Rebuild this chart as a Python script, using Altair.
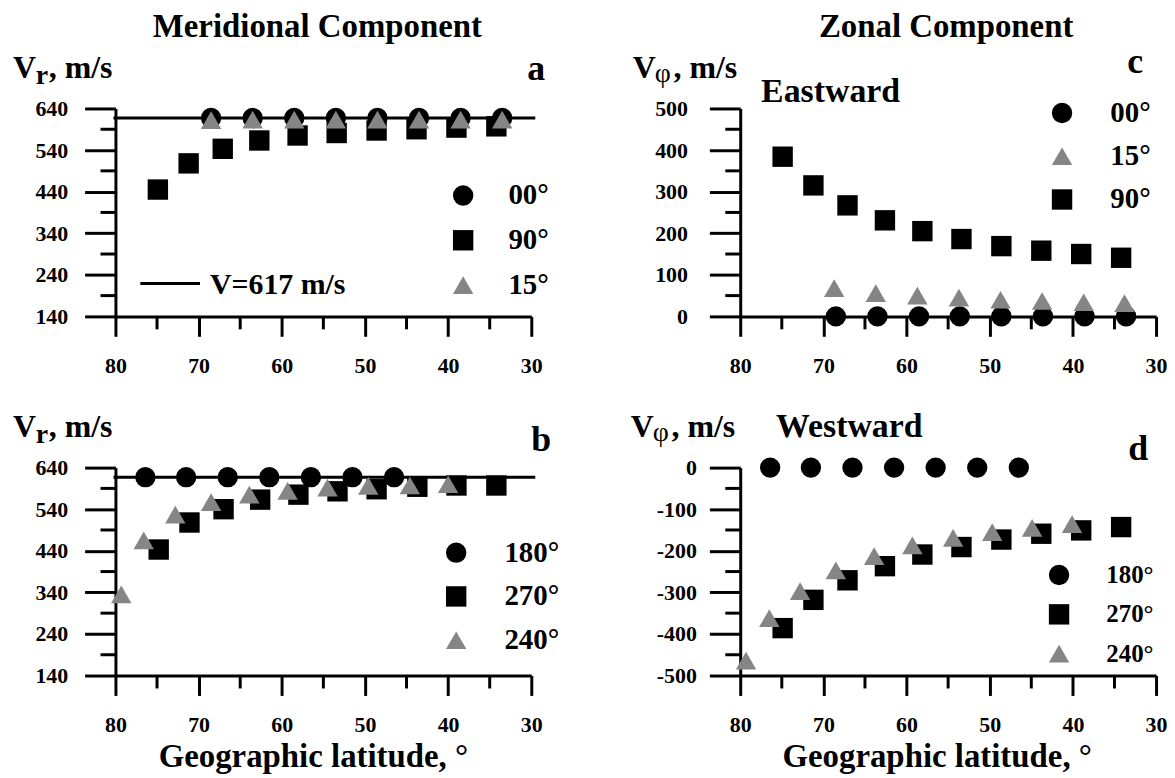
import altair as alt
import pandas as pd

FONT = "Liberation Serif"
W, H = 418, 209
GRAY = "#858585"
TICKC = "black"

LAT_MAJOR = [80, 70, 60, 50, 40, 30]
LAT_MINOR = [75, 65, 55, 45, 35]
VR_MAJOR = [140, 240, 340, 440, 540, 640]
VR_MINOR = [190, 290, 390, 490, 590]
E_MAJOR = [0, 100, 200, 300, 400, 500]
E_MINOR = [50, 150, 250, 350, 450]
WW_MAJOR = [-500, -400, -300, -200, -100, 0]
WW_MINOR = [-450, -350, -250, -150, -50]

A_LAT_00 = [68.5, 63.5, 58.5, 53.5, 48.5, 43.5, 38.5, 33.5]
A_V_00 = [617, 617, 617, 617, 617, 617, 617, 617]
A_LAT_90 = [74.9, 71.2, 67.1, 62.7, 58.1, 53.4, 48.6, 43.8, 39.0, 34.2]
A_V_90 = [445, 508, 543, 563, 575, 581, 587, 590, 594, 597]
A_LAT_15 = [68.5, 63.5, 58.5, 53.5, 48.5, 43.5, 38.5, 33.5]
A_V_15 = [612, 613, 613, 613, 613, 613, 613, 613]

B_LAT_180 = [76.4, 71.5, 66.5, 61.5, 56.5, 51.5, 46.5]
B_V_180 = [617, 617, 617, 617, 617, 617, 617]
B_LAT_270 = [74.8, 71.1, 67.0, 62.6, 58.0, 53.3, 48.6, 43.7, 39.0, 34.2]
B_V_270 = [443, 508, 540, 563, 575, 583, 588, 594, 597, 597]
B_LAT_240 = [79.3, 76.6, 72.8, 68.5, 63.9, 59.3, 54.5, 49.6, 44.6, 40.0]
B_V_240 = [335, 465, 527, 557, 575, 584, 592, 596, 597, 600]

C_LAT_00 = [68.5, 63.5, 58.5, 53.6, 48.6, 43.6, 38.6, 33.6]
C_V_00 = [0, 0, 0, 0, 0, 0, 0, 0]
C_LAT_15 = [68.7, 63.7, 58.7, 53.7, 48.7, 43.7, 38.7, 33.8]
C_V_15 = [68, 56, 50, 45, 40, 37, 34, 32]
C_LAT_90 = [74.9, 71.2, 67.1, 62.6, 58.1, 53.4, 48.6, 43.8, 39.0, 34.2]
C_V_90 = [384, 315, 267, 231, 205, 186, 169, 158, 150, 141]

D_LAT_180 = [76.4, 71.5, 66.5, 61.5, 56.5, 51.5, 46.5]
D_V_180 = [0, 0, 0, 0, 0, 0, 0]
D_LAT_270 = [74.9, 71.2, 67.1, 62.6, 58.1, 53.4, 48.6, 43.8, 39.0, 34.2]
D_V_270 = [-386, -318, -271, -237, -209, -191, -173, -159, -151, -143]
D_LAT_240 = [79.3, 76.5, 72.8, 68.5, 63.9, 59.3, 54.4, 49.7, 44.9, 40.1]
D_V_240 = [-464, -362, -297, -247, -213, -187, -169, -155, -145, -136]

ONE = pd.DataFrame({"k": [0]})


def frame(groups):
    rows = []
    for name, lats, vals in groups:
        for la, v in zip(lats, vals):
            rows.append({"lat": la, "v": v, "series": name})
    return pd.DataFrame(rows)


AX = dict(domainColor="black", domainWidth=3,
          tickColor=TICKC, tickWidth=3, ticks=True, labelFont=FONT, labelFontSize=22,
          labelFontWeight="bold", labelColor="black", grid=False,
          labelFlush=False, labelOverlap=False, title=None,
          labelExpr="'' + datum.value")


def txt(s, x, y, size=32, weight="bold", align="left"):
    return alt.Chart(ONE).mark_text(
        text=s, font=FONT, fontSize=size, fontWeight=weight, align=align,
        baseline="alphabetic", color="black"
    ).encode(x=alt.value(x), y=alt.value(y))


def panel(df, domain, shapes, colors, ydom, ymaj, ymin, ylabpad,
          lx, ly, loff, lrow, lfs, before, after):
    xs = alt.Scale(domain=[80, 30], nice=False, zero=False)
    ys = alt.Scale(domain=ydom, nice=False, zero=False)
    xaxis = alt.Axis(values=LAT_MAJOR, tickSize=20, labelPadding=19, **AX)
    yaxis = alt.Axis(values=ymaj, tickSize=31, labelPadding=ylabpad, **AX)
    leg = alt.Legend(orient="none", legendX=lx, legendY=ly, title=None,
                     labelFont=FONT, labelFontSize=lfs, labelFontWeight="bold",
                     labelColor="black", labelOffset=loff, rowPadding=lrow,
                     padding=0, symbolSize=420, symbolStrokeWidth=0,
                     symbolOpacity=1, offset=0)
    pts = alt.Chart(df).mark_point(filled=True, size=420, opacity=1).encode(
        x=alt.X("lat:Q", scale=xs, axis=xaxis),
        y=alt.Y("v:Q", scale=ys, axis=yaxis),
        shape=alt.Shape("series:N", scale=alt.Scale(domain=domain, range=shapes), legend=leg),
        color=alt.Color("series:N", scale=alt.Scale(domain=domain, range=colors), legend=leg),
    )
    # shorter minor ticks, positioned through the same scales
    xminor = alt.Chart(pd.DataFrame({"lat": LAT_MINOR})).mark_tick(
        orient="vertical", size=13, thickness=3, color=TICKC, opacity=1).encode(
        x=alt.X("lat:Q", scale=xs, axis=xaxis), y=alt.value(H + 6.5))
    yminor = alt.Chart(pd.DataFrame({"v": ymin})).mark_tick(
        orient="horizontal", size=15, thickness=3, color=TICKC, opacity=1).encode(
        y=alt.Y("v:Q", scale=ys, axis=yaxis), x=alt.value(-7.5))
    return alt.layer(*before, pts, xminor, yminor, *after).properties(width=W, height=H)


def hline(v):
    return alt.Chart(ONE).mark_rule(color="black", strokeWidth=3).encode(
        x=alt.value(-2), x2=alt.value(W + 4), y=alt.datum(v))


dfa = frame([("00°", A_LAT_00, A_V_00), ("90°", A_LAT_90, A_V_90), ("15°", A_LAT_15, A_V_15)])
pa = panel(dfa, ["00°", "90°", "15°"], ["circle", "square", "triangle-up"],
           ["black", "black", GRAY], [140, 640], VR_MAJOR, VR_MINOR, 17,
           335, 73, 31, 15, 29,
           [hline(617)],
           [txt("Meridional Component", 203, -72, 33, align="center"),
            txt("V", -103, -31, 32), txt("r", -80, -25, 28), txt(", m/s", -67, -31, 32),
            txt("a", 432, -29, 36, align="right"),
            alt.Chart(ONE).mark_rule(color="black", strokeWidth=3).encode(
                x=alt.value(25), x2=alt.value(85), y=alt.value(176)),
            txt("V=617 m/s", 95, 186, 30),
            alt.Chart(ONE).mark_point(size=1, opacity=0).encode(x=alt.value(-107), y=alt.value(-98))])

dfc = frame([("00°", C_LAT_00, C_V_00), ("90°", C_LAT_90, C_V_90), ("15°", C_LAT_15, C_V_15)])
pc = panel(dfc, ["00°", "15°", "90°"], ["circle", "triangle-up", "square"],
           ["black", GRAY, "black"], [0, 500], E_MAJOR, E_MINOR, 22,
           309, -10, 34, 13.5, 29,
           [],
           [txt("Zonal Component", 207, -72, 33, align="center"),
            txt("V", -108, -31, 32), txt("φ", -86, -27, 28, weight="normal"),
            txt(", m/s", -67, -31, 32),
            txt("Eastward", 21, -6, 34),
            txt("c", 405, -36, 36, align="right")])

dfb = frame([("180°", B_LAT_180, B_V_180), ("270°", B_LAT_270, B_V_270), ("240°", B_LAT_240, B_V_240)])
pb = panel(dfb, ["180°", "270°", "240°"], ["circle", "square", "triangle-up"],
           ["black", "black", GRAY], [140, 640], VR_MAJOR, VR_MINOR, 17,
           328, 71, 34, 14, 29,
           [hline(617)],
           [txt("V", -103, -31, 32), txt("r", -80, -25, 28), txt(", m/s", -67, -31, 32),
            txt("b", 438, -17, 36, align="right"),
            txt("Geographic latitude, °", 199, 301, 33, align="center")])

dfd = frame([("180°", D_LAT_180, D_V_180), ("270°", D_LAT_270, D_V_270), ("240°", D_LAT_240, D_V_240)])
pd_ = panel(dfd, ["180°", "270°", "240°"], ["circle", "square", "triangle-up"],
            ["black", "black", GRAY], [-500, 0], WW_MAJOR, WW_MINOR, 13,
            308, 95.5, 35, 13.5, 25,
            [],
            [txt("V", -110, -31, 32), txt("φ", -88, -27, 28, weight="normal"),
             txt(", m/s", -69, -31, 32),
             txt("Westward", 36, -31, 34),
             txt("d", 410, -8, 36, align="right"),
             txt("Geographic latitude, °", 198, 301, 33, align="center")])

RES = dict(x="independent", y="independent", color="independent", shape="independent")
top = alt.hconcat(pa, pc, spacing=210, bounds="flush").resolve_scale(**RES).resolve_legend(
    color="independent", shape="independent")
bottom = alt.hconcat(pb, pd_, spacing=210, bounds="flush").resolve_scale(**RES).resolve_legend(
    color="independent", shape="independent")
# with flush bounds the nested row counts as zero height, so the spacing spans plot height + gap
chart = alt.vconcat(top, bottom, spacing=H + 152, bounds="flush").resolve_scale(**RES).resolve_legend(
    color="independent", shape="independent").properties(padding=0).configure_view(stroke=None)

chart.save("out.html", embed_options={"renderer": "svg", "actions": False})
